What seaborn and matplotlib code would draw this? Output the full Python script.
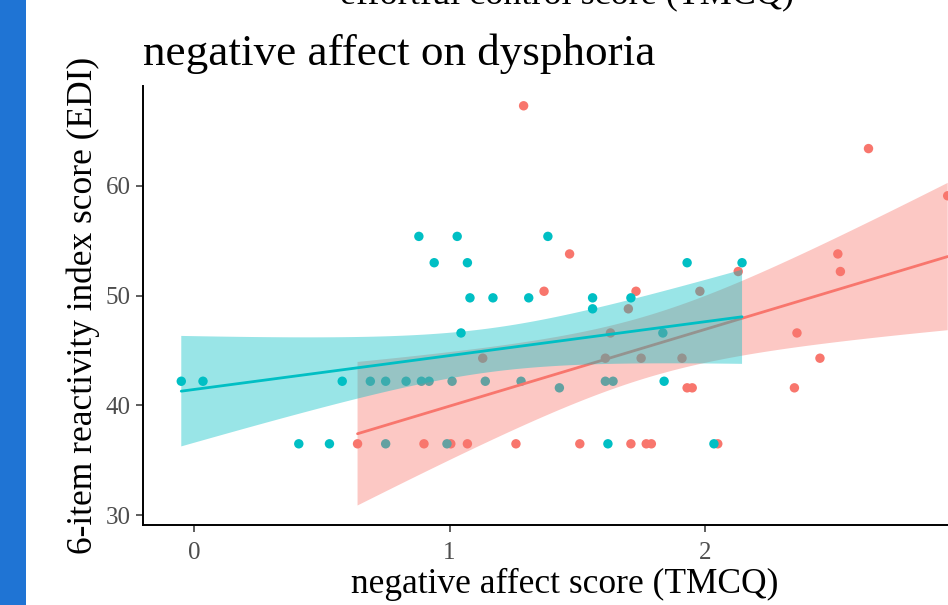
import numpy as np
import pandas as pd
import matplotlib
matplotlib.use("Agg")
import matplotlib.pyplot as plt
import seaborn as sns
from matplotlib.patches import Rectangle

# ---- data ----
red_x = [0.64, 0.90, 1.005, 1.07, 1.26, 1.13, 1.29, 1.37, 1.47, 1.51, 1.61, 1.63,
         1.70, 1.71, 1.73, 1.75, 1.77, 1.79, 1.91, 1.93, 1.95, 1.98, 2.05, 2.13,
         2.35, 2.36, 2.45, 2.52, 2.53, 2.64, 2.95]
red_y = [36.5, 36.5, 36.5, 36.5, 36.5, 44.3, 67.3, 50.4, 53.8, 36.5, 44.3, 46.6,
         48.8, 36.5, 50.4, 44.3, 36.5, 36.5, 44.3, 41.6, 41.6, 50.4, 36.5, 52.2,
         41.6, 46.6, 44.3, 53.8, 52.2, 63.4, 59.1]
teal_x = [-0.05, 0.035, 0.41, 0.53, 0.58, 0.69, 0.75, 0.75, 0.83, 0.89, 0.92, 0.99,
          1.01, 0.88, 1.03, 0.94, 1.07, 1.08, 1.17, 1.045, 1.14, 1.28, 1.31, 1.385,
          1.43, 1.56, 1.56, 1.61, 1.64, 1.62, 1.71, 1.835, 1.84, 1.93, 2.145, 2.035]
teal_y = [42.2, 42.2, 36.5, 36.5, 42.2, 42.2, 42.2, 36.5, 42.2, 42.2, 42.2, 36.5,
          42.2, 55.4, 55.4, 53.0, 53.0, 49.8, 49.8, 46.6, 42.2, 42.2, 49.8, 55.4,
          41.6, 49.8, 48.8, 42.2, 42.2, 36.5, 49.8, 46.6, 42.2, 53.0, 53.0, 36.5]
groups = ["a", "b"]
colors = {"a": "#F8766D", "b": "#00BFC4"}
x_ticks = [0, 1, 2, 3]
y_ticks = [30, 40, 50, 60]
title = "negative affect on dysphoria"
xlabel = "negative affect score (TMCQ)"
ylabel = "6-item reactivity index score (EDI)"
top_text = "effortful control score (TMCQ)"

df = pd.DataFrame({
    "x": red_x + teal_x,
    "y": red_y + teal_y,
    "g": ["a"] * len(red_x) + ["b"] * len(teal_x),
})


def t_quantile(dof):
    try:
        from scipy import stats
        return stats.t.ppf(0.975, dof)
    except Exception:
        return 1.96 + 2.4 / dof


def lm_band(x, y, grid):
    x = np.asarray(x, float)
    y = np.asarray(y, float)
    n = len(x)
    xb = x.mean()
    sxx = ((x - xb) ** 2).sum()
    b1 = ((x - xb) * (y - y.mean())).sum() / sxx
    b0 = y.mean() - b1 * xb
    resid = y - (b0 + b1 * x)
    s = np.sqrt((resid ** 2).sum() / (n - 2))
    yhat = b0 + b1 * grid
    se = s * np.sqrt(1.0 / n + (grid - xb) ** 2 / sxx)
    t = t_quantile(n - 2)
    return yhat - t * se, yhat + t * se


sns.set_style("ticks")
plt.rcParams["font.family"] = ["Liberation Serif", "DejaVu Serif"]

fig = plt.figure(figsize=(9.48, 6.05), dpi=100)
fig.patch.set_facecolor("white")
ax = fig.add_axes([0.1508, 0.1322, 0.8893, 0.7256])
ax.set_facecolor("white")

sns.scatterplot(data=df, x="x", y="y", hue="g", palette=colors, s=46,
                edgecolor="none", linewidth=0, legend=False, ax=ax, zorder=1)

z = 2
for g in groups:
    sub = df[df.g == g]
    grid = np.linspace(sub.x.min(), sub.x.max(), 100)
    lo, hi = lm_band(sub.x, sub.y, grid)
    ax.fill_between(grid, lo, hi, facecolor=colors[g], alpha=0.4,
                    edgecolor="none", zorder=z)
    sns.regplot(data=sub, x="x", y="y", scatter=False, ci=None,
                color=colors[g], line_kws={"lw": 2.0, "zorder": z + 1},
                ax=ax, truncate=True)
    z += 2

ax.set_xlim(-0.2, 3.1)
ax.set_ylim(29.1, 69.1)
ax.set_xticks(x_ticks)
ax.set_yticks(y_ticks)
ax.tick_params(axis="both", length=5, width=1.1, color="#333333",
               labelcolor="#4D4D4D", labelsize=18)
ax.tick_params(axis="x", pad=7)
ax.tick_params(axis="y", pad=4)
for s in ["top", "right"]:
    ax.spines[s].set_visible(False)
for s in ["left", "bottom"]:
    ax.spines[s].set_color("black")
    ax.spines[s].set_linewidth(1.4)

ax.set_xlabel(xlabel, fontsize=25.5, color="black")
ax.xaxis.set_label_coords(0.5, -0.155)
ax.xaxis.label.set_verticalalignment("baseline")
ax.set_ylabel(ylabel, fontsize=25.5, color="black")
ax.yaxis.set_label_coords(-0.0605, 0.5)
ax.yaxis.label.set_verticalalignment("baseline")

fig.text(143 / 948, 1 - 65 / 605, title, fontsize=32.5, color="black",
         ha="left", va="baseline")
fig.text(567 / 948, 1 - 3 / 605, top_text, fontsize=26, color="black",
         ha="center", va="baseline")

fig.patches.append(Rectangle((0, 0), 26 / 948, 1, transform=fig.transFigure,
                             facecolor="#1F74D4", edgecolor="none", zorder=10))

fig.savefig("out.png", dpi=100, facecolor="white")
